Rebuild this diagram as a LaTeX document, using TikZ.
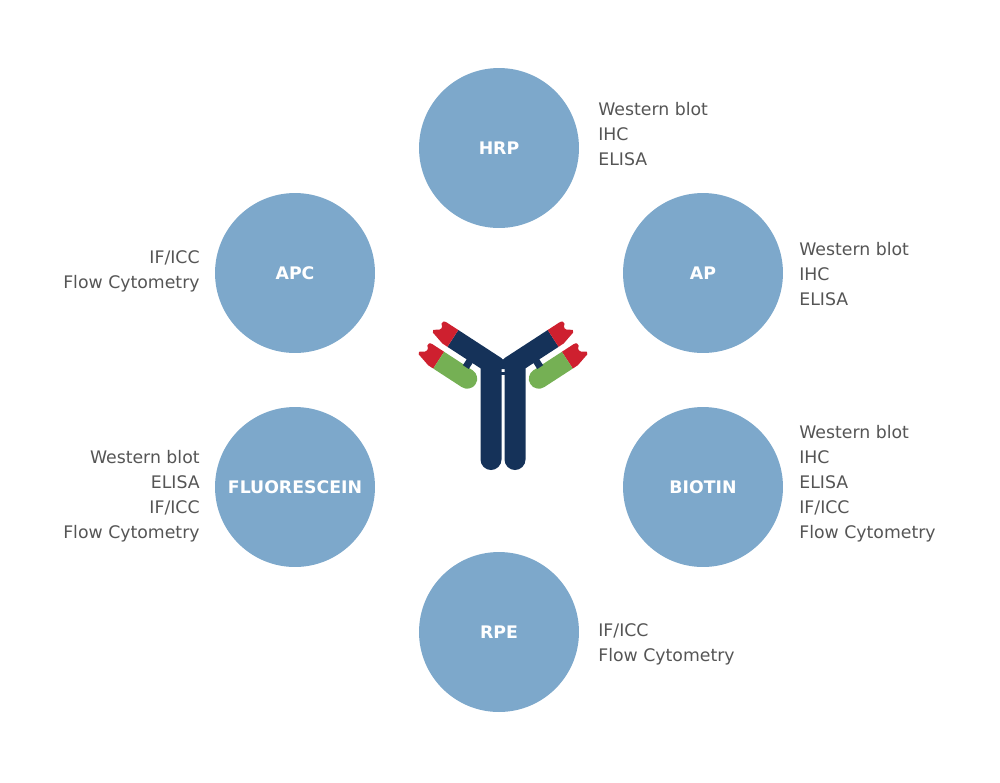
\documentclass[tikz,border=0pt]{standalone}
\usepackage{fontspec}
\setmainfont{DejaVu Sans}
\usetikzlibrary{positioning}
\definecolor{circblue}{RGB}{125,168,203}
\definecolor{abnavy}{RGB}{21,50,89}
\definecolor{abred}{RGB}{206,32,47}
\definecolor{abgreen}{RGB}{117,176,84}
\definecolor{txtgray}{RGB}{85,85,85}
\tikzset{
    mynode/.style = {circle, minimum size=3.2cm, inner sep=0pt, fill=circblue, text=white, font=\fontsize{9.85}{12}\selectfont\bfseries},
    mytextl/.style = {anchor=west, align=left, inner sep=0pt, text=txtgray, font=\fontsize{9.85}{14.2}\selectfont},
    mytextr/.style = {anchor=east, align=right, inner sep=0pt, text=txtgray, font=\fontsize{9.85}{14.2}\selectfont},
    abheavy/.style = {fill=abnavy},
    abtip/.style = {fill=abred},
    ablight/.style = {fill=abgreen}
}
\begin{document}
\begin{tikzpicture}[x=0.02cm,y=-0.02cm]
\path[use as bounding box] (0,0) rectangle (1000,782);
%
\node[mynode] at (499,148) (hrp) {HRP};
\node[mynode] at (295,273) (apc) {APC};
\node[mynode] at (703,273) (ap) {AP};
\node[mynode] at (295,487) (fluo) {FLUORESCEIN};
\node[mynode] at (703,487) (biotin) {BIOTIN};
\node[mynode] at (499,632) (rpe) {RPE};
%
\node[mytextl] at (598,134) (hrpt) {Western blot\\IHC\\ELISA};
\node[mytextl] at (799,274) (apt) {Western blot\\IHC\\ELISA};
\node[mytextl] at (799,484) (biotint) {Western blot\\IHC\\ELISA\\IF/ICC\\Flow Cytometry};
\node[mytextl] at (598,644) (rpet) {IF/ICC\\Flow Cytometry};
\node[mytextr] at (200,271) (apct) {IF/ICC\\Flow Cytometry};
\node[mytextr] at (200,496) (fluot) {Western blot\\ELISA\\IF/ICC\\Flow Cytometry};
%
% antibody, left half and its mirror
\foreach \s/\sh in {1/0,-1/1006}{
\begin{scope}[shift={(\sh,0)}, xscale=\s]
  \fill[abheavy] (458.3,330) -- (501.5,358.1) -- (501.5,459.5) arc[start angle=0, end angle=180, radius=10.5] -- (480.5,368.3) -- (447.4,346.8) -- cycle;
  \begin{scope}[shift={(458.3,330)}, x={(-0.01677cm,0.01089cm)}, y={(-0.01089cm,-0.01677cm)}]
    \foreach \o in {0,26}{
      \fill[abtip] (0,\o) -- (14,\o) .. controls (17,\o) and (18.5,2+\o) .. (17.5,4+\o) .. controls (14,6+\o) and (14,10+\o) .. (19,12+\o) .. controls (21,12.5+\o) and (22,14.5+\o) .. (20,16+\o) -- (6,20+\o) -- (0,20+\o) -- cycle;
    }
    \fill[ablight] (0,26) -- (-34,26) arc[start angle=270, end angle=90, radius=10] -- (0,46) -- cycle;
    \fill[abheavy] (-30,19) -- (-23,19) -- (-23,27) -- (-30,27) -- cycle;
  \end{scope}
\end{scope}
}
\fill[abheavy] (501,358) -- (503,359.5) -- (505,358) -- (505,369) -- (501,369) -- cycle;
\fill[abheavy] (501,372) rectangle (505,375);

\end{tikzpicture}
\end{document}
